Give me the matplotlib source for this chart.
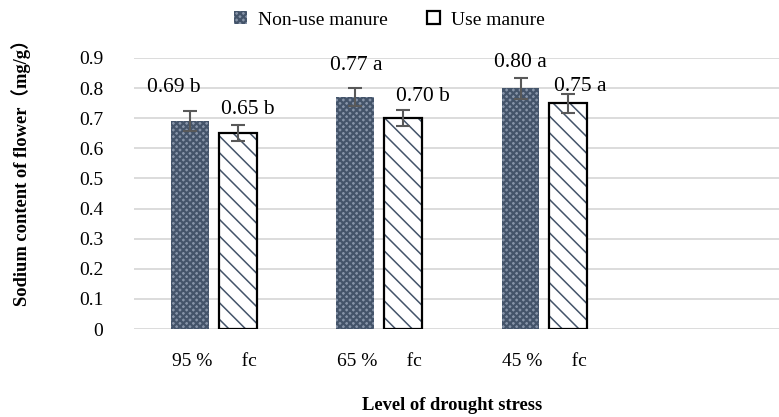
import matplotlib
matplotlib.use("Agg")
import matplotlib.pyplot as plt
from matplotlib.patches import Patch
import numpy as np

# ---- data ----
categories = ["95 %      fc", "65 %      fc", "45 %      fc"]
series_names = ["Non-use manure", "Use manure"]
non_use = [0.69, 0.77, 0.80]
use = [0.65, 0.70, 0.75]
non_use_err = [0.034, 0.030, 0.035]
use_err = [0.027, 0.027, 0.031]
non_use_labels = ["0.69 b", "0.77 a", "0.80 a"]
use_labels = ["0.65 b", "0.70 b", "0.75 a"]
yticks = [0, 0.1, 0.2, 0.3, 0.4, 0.5, 0.6, 0.7, 0.8, 0.9]
ytick_labels = ["0", "0.1", "0.2", "0.3", "0.4", "0.5", "0.6", "0.7", "0.8", "0.9"]

# label offsets in pixels (dx, dy above bar top)
non_use_off = [(-16, 34), (1, 32), (0, 26)]
use_off = [(10, 24), (20, 22), (12, 17)]

plt.rcParams['font.family'] = ['Liberation Serif', 'DejaVu Serif']

W, H = 779, 417
fig = plt.figure(figsize=(W / 100, H / 100), dpi=100)
ax = fig.add_axes([134 / W, 88 / H, 645 / W, 271 / H])

x = np.arange(len(categories))
off = 0.145
bw = 0.23
dark = "#44546A"

# non-use: patterned fill
plt.rcParams['hatch.linewidth'] = 1.6
plt.rcParams['hatch.color'] = dark
ax.bar(x - off, non_use, bw, color="#8794A8", edgecolor="none", zorder=2)
ax.bar(x - off, non_use, bw, fill=False, hatch="xxxxx", edgecolor=dark, linewidth=0, zorder=3)

# use: white with diagonal hatch
plt.rcParams['hatch.linewidth'] = 1.1
ax.bar(x + off, use, bw, color="white", edgecolor="none", zorder=2)
ax.bar(x + off, use, bw, fill=False, hatch="\\\\", edgecolor=dark, linewidth=0, zorder=3)
ax.bar(x + off, use, bw, fill=False, edgecolor="black", linewidth=1.6, zorder=4)

ax.errorbar(x - off, non_use, yerr=non_use_err, fmt="none", ecolor="#595959",
            elinewidth=1.5, capsize=5, capthick=1.5, zorder=5)
ax.errorbar(x + off, use, yerr=use_err, fmt="none", ecolor="#595959",
            elinewidth=1.5, capsize=5, capthick=1.5, zorder=5)

for xi, v, lab, (dx, dy) in zip(x - off, non_use, non_use_labels, non_use_off):
    ax.annotate(lab, (xi, v), xytext=(dx * 0.72, dy * 0.72), textcoords="offset points",
                ha="center", va="center", fontsize=15.5, zorder=6)
for xi, v, lab, (dx, dy) in zip(x + off, use, use_labels, use_off):
    ax.annotate(lab, (xi, v), xytext=(dx * 0.72, dy * 0.72), textcoords="offset points",
                ha="center", va="center", fontsize=15.5, zorder=6)

ax.set_xlim(-0.485, 3.42)
ax.set_ylim(0, 0.9)
ax.set_yticks(yticks)
ax.set_yticklabels(ytick_labels, fontsize=14)
ax.set_xticks(x)
ax.set_xticklabels(categories, fontsize=14)
ax.tick_params(length=0)
ax.tick_params(axis="y", pad=22)
ax.tick_params(axis="x", pad=17)
ax.grid(axis="y", color="#D9D9D9", linewidth=1.3, zorder=0)
ax.set_axisbelow(True)
for s in ax.spines.values():
    s.set_visible(False)

fig.text(21 / W, 1 - 168 / H, "Sodium content of flower（mg/g）", rotation=90,
         ha="center", va="center", fontsize=13.3, fontweight="bold",
         family=['Liberation Serif', 'Noto Sans CJK SC'])
fig.text(452 / W, 1 - 405 / H, "Level of drought stress", ha="center", va="center",
         fontsize=13.3, fontweight="bold")

plt.rcParams['hatch.linewidth'] = 1.6
h1 = Patch(facecolor="#8794A8", edgecolor=dark, hatch="xxxxx", linewidth=0)
h2 = Patch(facecolor="white", edgecolor="black", linewidth=1.6)
fig.legend([h1, h2], series_names, loc="center", bbox_to_anchor=(0.5, 1 - 20 / H),
           ncol=2, frameon=False, fontsize=14, handlelength=0.65, handleheight=0.65,
           columnspacing=2.0, handletextpad=0.6)

fig.savefig("out.png", dpi=100)
